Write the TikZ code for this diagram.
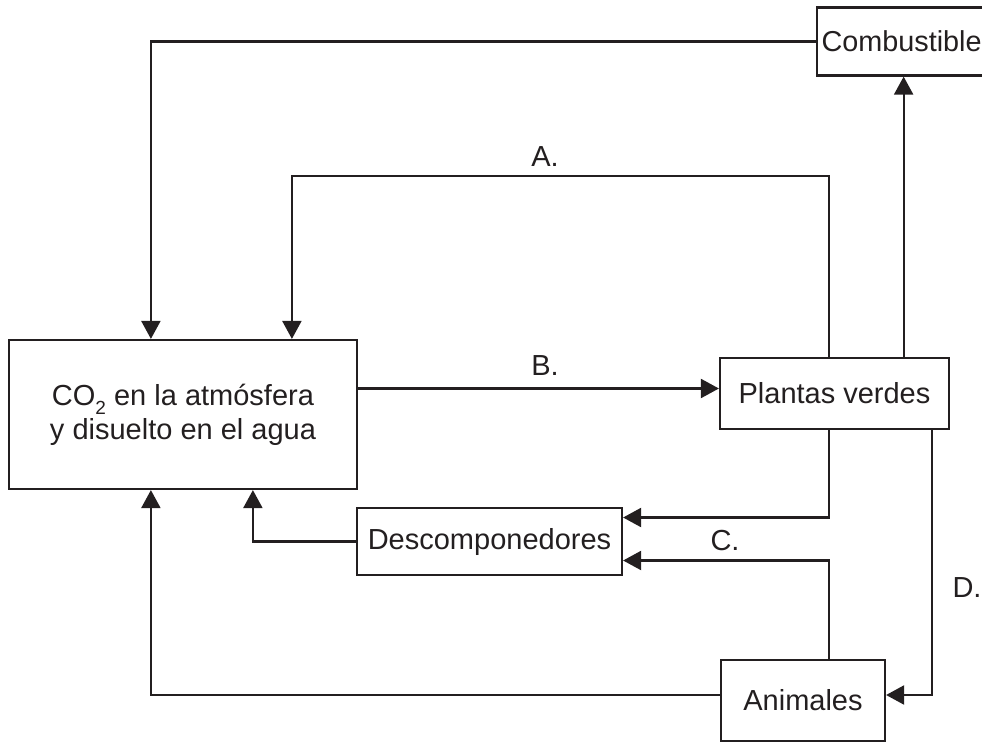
\documentclass[tikz,border=0pt]{standalone}
\usepackage{fontspec}
\setmainfont{Liberation Sans}
\usetikzlibrary{arrows.meta}
\definecolor{ink}{HTML}{231F20}
\begin{document}
\begin{tikzpicture}[x=1pt,y=-1pt,
  box/.style={draw=ink,line width=2.2pt,rectangle,inner sep=0pt,text=ink,font=\fontsize{29}{34.3}\selectfont,align=center},
  arr/.style={draw=ink,line width=2.2pt,-{Triangle[length=18pt,width=19pt]}},
  lbl/.style={anchor=base,text=ink,font=\fontsize{29}{34.3}\selectfont,inner sep=0pt}]
\useasboundingbox (0,0) rectangle (982,742);
\node[box,minimum width=348pt,minimum height=149pt] (co2) at (183,414.5)
  {CO\raisebox{-9pt}{\fontsize{19}{19}\selectfont 2} en la atmósfera\\y disuelto en el agua};
\node[box,anchor=west,minimum height=68pt,inner xsep=4.5pt] (comb) at (816,41.5) {\fontsize{28.8}{34}\selectfont Combustible};
\node[box,minimum width=229pt,minimum height=71pt] (pv) at (834.5,393.5) {Plantas verdes};
\node[box,minimum width=265pt,minimum height=67pt] (desc) at (489.5,541.5) {Descomponedores};
\node[box,minimum width=164pt,minimum height=81pt] (anim) at (803,700.5) {Animales};
% Combustible -> CO2
\draw[arr] (comb.west) -| ([xshift=143pt]co2.north west);
% A
\draw[arr] ([xshift=110pt]pv.north west) -- ++(0,-181) -| ([xshift=284pt]co2.north west);
% B
\draw[arr] ([yshift=26pt]co2.east) coordinate (b1) -- (b1 -| pv.west);
% Plantas -> Combustible
\draw[arr] ([xshift=2pt]comb.south) coordinate (cs) (pv.north -| cs) -- (cs);
% Plantas -> Descomponedores
\draw[arr] ([xshift=110pt]pv.south west) |- ([yshift=24pt]desc.east);
% C: Animales -> Descomponedores
\draw[arr] ([xshift=109pt]anim.north west) |- ([yshift=-19pt]desc.east);
% D: Plantas -> Animales
\draw[arr] ([xshift=213pt]pv.south west) |- ([yshift=5.5pt]anim.east);
% Descomponedores -> CO2
\draw[arr] (desc.west) -| ([xshift=245pt]co2.south west);
% Animales -> CO2
\draw[arr] ([yshift=5.5pt]anim.west) -| ([xshift=143pt]co2.south west);
% labels
\node[lbl] (la) at (545,166.7) {A.};
\node[lbl] (lb) at (545,375) {B.};
\node[lbl] (lc) at (725,550) {C.};
\node[lbl] (ld) at (967,597) {D.};
\end{tikzpicture}
\end{document}
